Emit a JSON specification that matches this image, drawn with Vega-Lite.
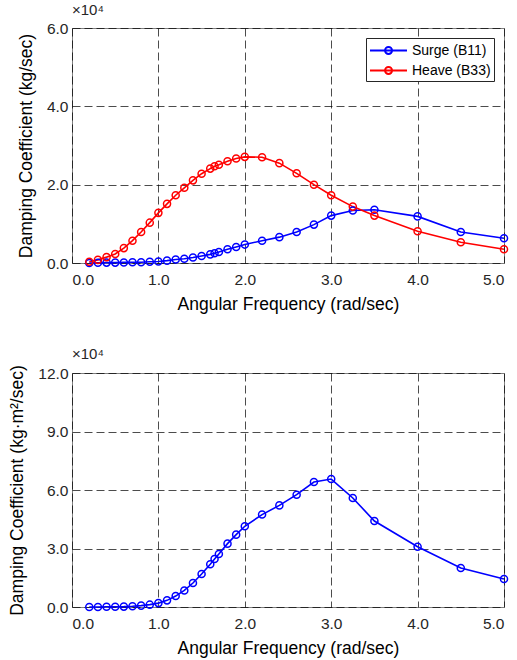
{
  "$schema": "https://vega.github.io/schema/vega-lite/v6.json",
  "padding": {"left": 8, "top": 2, "right": 8, "bottom": 5},
  "spacing": 32,
  "config": {
    "font": "Liberation Sans",
    "view": {"stroke": "#7f7f7f", "strokeWidth": 1},
    "axis": {
      "labelFontSize": 15.5, "titleFontSize": 17.5, "titleFontWeight": "normal",
      "labelColor": "#262626", "titleColor": "#000000",
      "grid": true, "gridDash": [8, 4], "gridColor": "#000000", "gridOpacity": 0.7,
      "domain": false, "ticks": false, "labelPadding": 4
    },
    "axisY": {"titlePadding": 11},
    "axisX": {"titlePadding": 8, "labelPadding": 9}
  },
  "datasets": {
    "top": [
      {"w": 0.2, "series": "Surge (B11)", "b": 0},
      {"w": 0.3, "series": "Surge (B11)", "b": 50},
      {"w": 0.4, "series": "Surge (B11)", "b": 100},
      {"w": 0.5, "series": "Surge (B11)", "b": 100},
      {"w": 0.6, "series": "Surge (B11)", "b": 150},
      {"w": 0.7, "series": "Surge (B11)", "b": 200},
      {"w": 0.8, "series": "Surge (B11)", "b": 200},
      {"w": 0.9, "series": "Surge (B11)", "b": 300},
      {"w": 1.0, "series": "Surge (B11)", "b": 400},
      {"w": 1.1, "series": "Surge (B11)", "b": 600},
      {"w": 1.2, "series": "Surge (B11)", "b": 900},
      {"w": 1.3, "series": "Surge (B11)", "b": 1100},
      {"w": 1.4, "series": "Surge (B11)", "b": 1400},
      {"w": 1.5, "series": "Surge (B11)", "b": 1800},
      {"w": 1.6, "series": "Surge (B11)", "b": 2200},
      {"w": 1.65, "series": "Surge (B11)", "b": 2500},
      {"w": 1.7, "series": "Surge (B11)", "b": 2800},
      {"w": 1.8, "series": "Surge (B11)", "b": 3500},
      {"w": 1.9, "series": "Surge (B11)", "b": 4100},
      {"w": 2.0, "series": "Surge (B11)", "b": 4700},
      {"w": 2.2, "series": "Surge (B11)", "b": 5700},
      {"w": 2.4, "series": "Surge (B11)", "b": 6600},
      {"w": 2.6, "series": "Surge (B11)", "b": 7900},
      {"w": 2.8, "series": "Surge (B11)", "b": 9800},
      {"w": 3.0, "series": "Surge (B11)", "b": 12100},
      {"w": 3.25, "series": "Surge (B11)", "b": 13400},
      {"w": 3.5, "series": "Surge (B11)", "b": 13600},
      {"w": 4.0, "series": "Surge (B11)", "b": 11900},
      {"w": 4.5, "series": "Surge (B11)", "b": 7900},
      {"w": 5.0, "series": "Surge (B11)", "b": 6300},
      {"w": 0.2, "series": "Heave (B33)", "b": 300},
      {"w": 0.3, "series": "Heave (B33)", "b": 800},
      {"w": 0.4, "series": "Heave (B33)", "b": 1500},
      {"w": 0.5, "series": "Heave (B33)", "b": 2300},
      {"w": 0.6, "series": "Heave (B33)", "b": 3800},
      {"w": 0.7, "series": "Heave (B33)", "b": 5700},
      {"w": 0.8, "series": "Heave (B33)", "b": 7900},
      {"w": 0.9, "series": "Heave (B33)", "b": 10300},
      {"w": 1.0, "series": "Heave (B33)", "b": 12800},
      {"w": 1.1, "series": "Heave (B33)", "b": 15100},
      {"w": 1.2, "series": "Heave (B33)", "b": 17300},
      {"w": 1.3, "series": "Heave (B33)", "b": 19200},
      {"w": 1.4, "series": "Heave (B33)", "b": 21100},
      {"w": 1.5, "series": "Heave (B33)", "b": 22800},
      {"w": 1.6, "series": "Heave (B33)", "b": 24100},
      {"w": 1.65, "series": "Heave (B33)", "b": 24700},
      {"w": 1.7, "series": "Heave (B33)", "b": 25100},
      {"w": 1.8, "series": "Heave (B33)", "b": 26000},
      {"w": 1.9, "series": "Heave (B33)", "b": 26700},
      {"w": 2.0, "series": "Heave (B33)", "b": 27100},
      {"w": 2.2, "series": "Heave (B33)", "b": 27000},
      {"w": 2.4, "series": "Heave (B33)", "b": 25500},
      {"w": 2.6, "series": "Heave (B33)", "b": 22900},
      {"w": 2.8, "series": "Heave (B33)", "b": 20000},
      {"w": 3.0, "series": "Heave (B33)", "b": 17300},
      {"w": 3.25, "series": "Heave (B33)", "b": 14400},
      {"w": 3.5, "series": "Heave (B33)", "b": 12100},
      {"w": 4.0, "series": "Heave (B33)", "b": 8100},
      {"w": 4.5, "series": "Heave (B33)", "b": 5300},
      {"w": 5.0, "series": "Heave (B33)", "b": 3500}
    ],
    "bottom": [
      {"w": 0.2, "b": 0},
      {"w": 0.3, "b": 0},
      {"w": 0.4, "b": 100},
      {"w": 0.5, "b": 100},
      {"w": 0.6, "b": 200},
      {"w": 0.7, "b": 400},
      {"w": 0.8, "b": 700},
      {"w": 0.9, "b": 1200},
      {"w": 1.0, "b": 2000},
      {"w": 1.1, "b": 3400},
      {"w": 1.2, "b": 5600},
      {"w": 1.3, "b": 8500},
      {"w": 1.4, "b": 12300},
      {"w": 1.5, "b": 16900},
      {"w": 1.6, "b": 21900},
      {"w": 1.65, "b": 24600},
      {"w": 1.7, "b": 27200},
      {"w": 1.8, "b": 32500},
      {"w": 1.9, "b": 37100},
      {"w": 2.0, "b": 41400},
      {"w": 2.2, "b": 47400},
      {"w": 2.4, "b": 52100},
      {"w": 2.6, "b": 57600},
      {"w": 2.8, "b": 64100},
      {"w": 3.0, "b": 65600},
      {"w": 3.25, "b": 55900},
      {"w": 3.5, "b": 44100},
      {"w": 4.0, "b": 30900},
      {"w": 4.5, "b": 20000},
      {"w": 5.0, "b": 14400}
    ]
  },
  "vconcat": [
    {
      "width": 432,
      "height": 235,
      "title": {"text": "×10⁴", "fontSize": 15, "fontWeight": "normal", "color": "#262626", "anchor": "start", "frame": "group", "offset": 3},
      "data": {"name": "top"},
      "encoding": {
        "x": {"field": "w", "type": "quantitative", "scale": {"domain": [0, 5], "nice": false},
          "axis": {"values": [0, 1, 2, 3, 4, 5], "format": ".1f", "title": "Angular Frequency (rad/sec)"}},
        "y": {"field": "b", "type": "quantitative", "scale": {"domain": [0, 60000], "nice": false},
          "axis": {"values": [0, 20000, 40000, 60000], "labelExpr": "format(datum.value/10000, '.1f')", "title": "Damping Coefficient (kg/sec)"}},
        "color": {"field": "series", "type": "nominal",
          "scale": {"domain": ["Surge (B11)", "Heave (B33)"], "range": ["#0000ff", "#ff0000"]},
          "legend": {"title": null, "orient": "top-right", "offset": 10,
            "fillColor": "#ffffff", "strokeColor": "#262626", "padding": 3,
            "labelFontSize": 14, "labelColor": "#000000", "rowPadding": 3, "labelOffset": 24,
            "symbolType": "M-1,0H3.35M0.77,0A0.41,0.41,0,1,0,1.59,0A0.41,0.41,0,1,0,0.77,0",
            "symbolSize": 289, "symbolStrokeWidth": 2, "symbolFillColor": "transparent"}}
      },
      "layer": [
        {"mark": {"type": "line", "strokeWidth": 1.6}},
        {"mark": {"type": "point", "filled": false, "size": 50, "strokeWidth": 1.5, "opacity": 1}}
      ]
    },
    {
      "width": 432,
      "height": 234,
      "title": {"text": "×10⁴", "fontSize": 15, "fontWeight": "normal", "color": "#262626", "anchor": "start", "frame": "group", "offset": 3},
      "data": {"name": "bottom"},
      "encoding": {
        "x": {"field": "w", "type": "quantitative", "scale": {"domain": [0, 5], "nice": false},
          "axis": {"values": [0, 1, 2, 3, 4, 5], "format": ".1f", "title": "Angular Frequency (rad/sec)"}},
        "y": {"field": "b", "type": "quantitative", "scale": {"domain": [0, 120000], "nice": false},
          "axis": {"values": [0, 30000, 60000, 90000, 120000], "labelExpr": "format(datum.value/10000, '.1f')", "title": "Damping Coefficient (kg·m²/sec)"}}
      },
      "layer": [
        {"mark": {"type": "line", "strokeWidth": 1.6, "color": "#0000ff"}},
        {"mark": {"type": "point", "filled": false, "size": 50, "strokeWidth": 1.5, "opacity": 1, "color": "#0000ff"}}
      ]
    }
  ]
}
